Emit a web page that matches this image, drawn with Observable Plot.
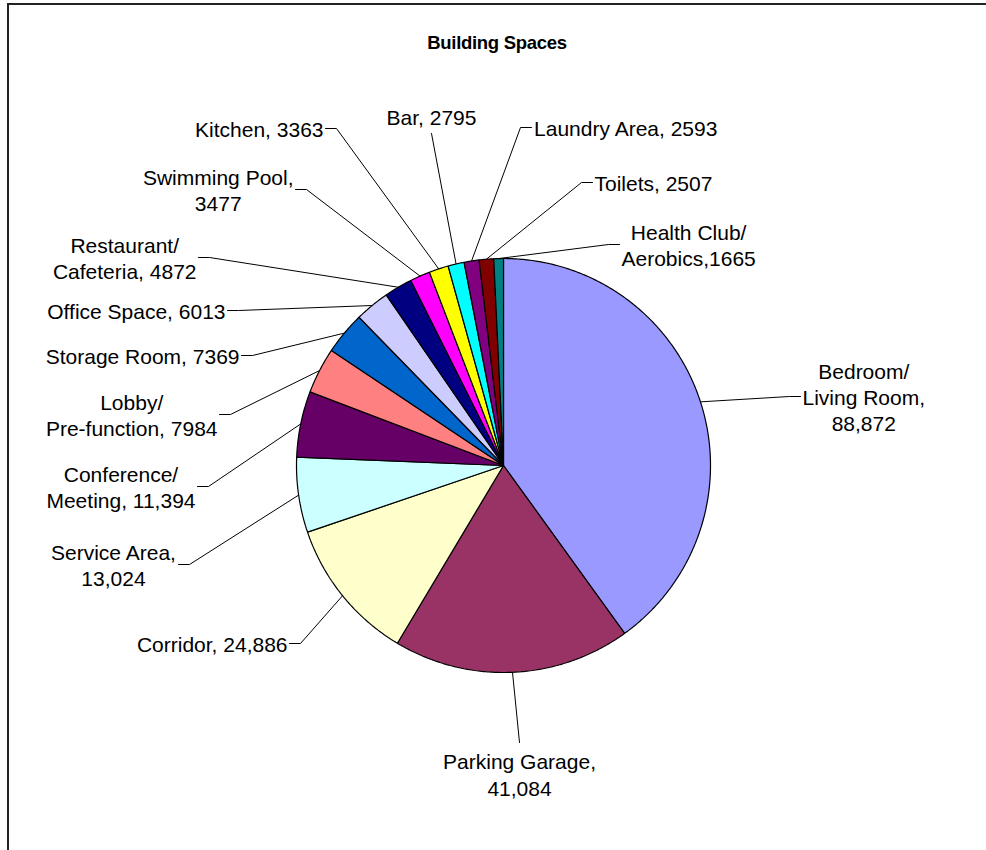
<!DOCTYPE html>
<html><head><meta charset="utf-8">
<script src="https://cdn.jsdelivr.net/npm/d3@7"></script>
<script src="https://cdn.jsdelivr.net/npm/@observablehq/plot@0.6"></script>
<style>
body{margin:0;background:#fff;}
#wrap{position:relative;width:986px;height:850px;overflow:hidden;font-family:"Liberation Sans",Arial,sans-serif;background:#fff;}
#chart{position:absolute;left:0;top:0;}
#frame{position:absolute;left:7px;top:3px;right:-10px;bottom:-10px;border-top:2px solid #222;border-left:2px solid #222;pointer-events:none;}
#title{position:absolute;left:8px;width:978px;top:32px;text-align:center;font-weight:bold;font-size:18.5px;letter-spacing:-0.3px;color:#000;}
</style></head>
<body>
<div id="wrap"><div id="chart"></div><div id="frame"></div><div id="title">Building Spaces</div></div>
<script>
// ---- data ----
const categories = ["Bedroom/\nLiving Room", "Parking Garage", "Corridor", "Service Area", "Conference/\nMeeting",
  "Lobby/\nPre-function", "Storage Room", "Office Space", "Restaurant/\nCafeteria", "Swimming Pool",
  "Kitchen", "Bar", "Laundry Area", "Toilets", "Health Club/\nAerobics"];
const areas = [88872, 41084, 24886, 13024, 11394, 7984, 7369, 6013, 4872, 3477, 3363, 2795, 2593, 2507, 1665];
const labelSeparators = [",\n", ",\n", ", ", ",\n", ", ", ", ", ", ", ", ", ", ", ",\n", ", ", ", ", ", ", ", ", ","];

// ---- styles / layout ----
const sliceColors = ["#9999FF", "#993366", "#FFFFCC", "#CCFFFF", "#660066", "#FF8080", "#0066CC", "#CCCCFF",
  "#000080", "#FF00FF", "#FFFF00", "#00FFFF", "#800080", "#800000", "#008080"];
// leader-line end point (page pixels) and side on which the label text sits
const labelLayout = [
  {end: [800, 396], side: "right"}, {end: [519, 742], side: "below"}, {end: [289, 643], side: "left"},
  {end: [178, 564], side: "left"}, {end: [197, 486], side: "left"}, {end: [219, 414], side: "left"},
  {end: [241, 355], side: "left"}, {end: [227, 310], side: "left"}, {end: [198, 257], side: "left"},
  {end: [295, 189], side: "left"}, {end: [325, 128], side: "left"}, {end: [431, 133], side: "above"},
  {end: [531, 127], side: "right"}, {end: [592, 182], side: "right"}, {end: [619, 244], side: "right"}
];
const W = 986, H = 850, CX = 503, CY = 465, R = 207;
const FONT_SIZE = 21, LINE_H = 1.26, FONT = '"Liberation Sans", Arial, sans-serif';

// ---- geometry from data ----
const fmt = v => v >= 10000 ? d3.format(",")(v) : String(v);
const rows = categories.map((c, i) => ({name: c.replace("\n", " "), value: areas[i], label: c + labelSeparators[i] + fmt(areas[i])}));
const arcs = d3.pie().sort(null).value(d => d.value)(rows);

const polys = [];
arcs.forEach(a => {
  const n = Math.max(2, Math.ceil((a.endAngle - a.startAngle) / (Math.PI / 360)));
  polys.push({name: a.data.name, x: 0, y: 0});
  for (let k = 0; k <= n; k++) {
    const t = a.startAngle + (a.endAngle - a.startAngle) * k / n;
    polys.push({name: a.data.name, x: R * Math.sin(t), y: R * Math.cos(t)});
  }
});

const ctx = document.createElement("canvas").getContext("2d");
ctx.font = `${FONT_SIZE}px ${FONT}`;
const toU = ([px, py]) => [px - CX, CY - py];

const leaders = [], texts = [];
arcs.forEach((a, i) => {
  const mid = (a.startAngle + a.endAngle) / 2;
  const lay = labelLayout[i];
  const [ex, ey] = toU(lay.end);
  const lines = a.data.label.split("\n");
  const w = d3.max(lines, l => ctx.measureText(l).width);
  const h = lines.length * FONT_SIZE * LINE_H;
  const pts = [[R * Math.sin(mid), R * Math.cos(mid)]];
  let tx = ex, ty = ey;
  if (lay.side === "left") { pts.push([ex + 11, ey]); tx = ex - 2 - w / 2; }
  else if (lay.side === "right") { pts.push([ex - 11, ey]); tx = ex + 2 + w / 2; }
  else if (lay.side === "below") { ty = ey - 5 - h / 2; }
  else if (lay.side === "above") { ty = ey + 4 + h / 2; }
  pts.push([ex, ey]);
  pts.forEach(p => leaders.push({id: i, x: p[0], y: p[1]}));
  texts.push({x: tx, y: ty, label: a.data.label});
});

const chart = Plot.plot({
  width: W, height: H, margin: 0,
  x: {domain: [-CX, W - CX], axis: null},
  y: {domain: [CY - H, CY], axis: null},
  color: {domain: rows.map(d => d.name), range: sliceColors},
  style: {background: "transparent"},
  marks: [
    Plot.line(leaders, {x: "x", y: "y", z: "id", stroke: "#000", strokeWidth: 1, curve: "linear"}),
    Plot.line(polys, {x: "x", y: "y", z: "name", fill: "name", stroke: "#000", strokeWidth: 1.2, curve: "linear-closed", strokeLinejoin: "miter"}),
    Plot.text(texts, {x: "x", y: "y", text: "label", fontSize: FONT_SIZE, lineHeight: LINE_H, lineAnchor: "middle",
      textAnchor: "middle", fill: "#000", fontFamily: FONT})
  ]
});
document.getElementById("chart").appendChild(chart);
</script>
</body></html>
